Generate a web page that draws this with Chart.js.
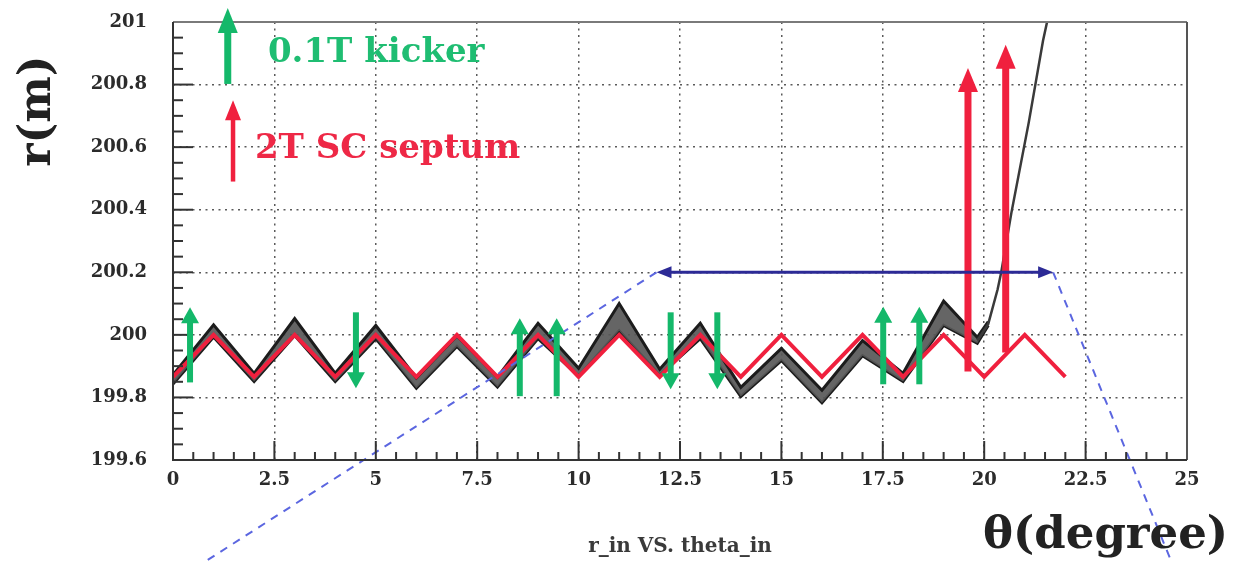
<!DOCTYPE html>
<html>
<head>
<meta charset="utf-8">
<title>r_in VS. theta_in</title>
<script src="https://cdn.jsdelivr.net/npm/chart.js@4.4.0/dist/chart.umd.min.js"></script>
<style>
  html, body { margin: 0; padding: 0; background: #fff; }
  canvas { display: block; }
</style>
</head>
<body>
<canvas id="canvas-orbit" width="1235" height="561"></canvas>
<script>
// axis ticks
const xTickValues = [0, 2.5, 5, 7.5, 10, 12.5, 15, 17.5, 20, 22.5, 25];
const xTickLabels = ['0', '2.5', '5', '7.5', '10', '12.5', '15', '17.5', '20', '22.5', '25'];
const yTickValues = [199.6, 199.8, 200, 200.2, 200.4, 200.6, 200.8, 201];
const yTickLabels = ['199.6', '199.8', '200', '200.2', '200.4', '200.6', '200.8', '201'];

// red reference orbit
const refTheta = [0, 1, 2, 3, 4, 5, 6, 7, 8, 9, 10, 11, 12, 13, 14, 15, 16, 17, 18, 19, 20, 21, 22];
const refR = [199.866, 200, 199.866, 200, 199.866, 200, 199.866, 200, 199.866, 200, 199.866, 200,
              199.866, 200, 199.866, 200, 199.866, 200, 199.866, 200, 199.866, 200, 199.866];

// tracked particles (band of turns): upper and lower edge
const bandTheta = [0, 1, 2, 3, 4, 5, 6, 7, 8, 9, 10, 11, 12, 13, 14, 15, 16, 17, 18, 19, 19.83, 20.1];
const bandHigh = [199.872, 200.032, 199.877, 200.052, 199.877, 200.03, 199.862, 199.997, 199.865, 200.037,
                  199.893, 200.1, 199.89, 200.037, 199.832, 199.957, 199.823, 199.982, 199.877, 200.108, 199.992, 200.042];
const bandLow = [199.843, 199.993, 199.851, 199.998, 199.851, 199.988, 199.829, 199.963, 199.833, 199.988,
                 199.868, 200.013, 199.871, 199.988, 199.803, 199.918, 199.783, 199.933, 199.851, 200.03, 199.973, 200.03];

// extracted beam leaving the orbit
const tailTheta = [19.83, 20.1, 20.33, 20.42, 20.67, 21.1, 21.45, 21.55];
const tailR = [199.982, 200.035, 200.145, 200.2, 200.39, 200.68, 200.94, 201.0];

// 0.1T kicker arrows
const kickerTheta = [0.42, 4.51, 8.55, 9.46, 12.27, 13.42, 17.51, 18.4];
const kickerFrom = [199.848, 200.072, 199.804, 199.804, 200.072, 200.072, 199.842, 199.842];
const kickerTo = [200.088, 199.829, 200.053, 200.053, 199.826, 199.826, 200.09, 200.09];

// 2T SC septum arrows
const septumTheta = [19.6, 20.53];
const septumFrom = [199.883, 199.944];
const septumTo = [200.853, 200.927];

// blue span arrow and the dashed zoom lines
const spanTheta = [11.92, 21.7];
const spanR = [200.2, 200.2];
const zoomLeftTheta = [11.92, 0.85];
const zoomLeftR = [200.2, 199.28];
const zoomRightTheta = [21.7, 24.6];
const zoomRightR = [200.2, 199.28];

// legend arrows (kicker, septum)
const legendTheta = [1.35, 1.48];
const legendFrom = [200.802, 200.49];
const legendTo = [201.045, 200.75];

const GREEN = '#14b86a';
const RED = '#f0203e';
const NAVY = '#2c2a96';
const SERIF = '"DejaVu Serif", "Liberation Serif", serif';

const pts = (xs, ys) => xs.map((x, i) => ({ x: x, y: ys[i] }));

function arrowSet(x, y0, y1, style) {
  return {
    data: [{ x: x, y: y0 }, { x: x, y: y1 }],
    showLine: false,
    pointRadius: 0,
    clip: false,
    arrow: style
  };
}

const datasets = [
  {
    label: 'band high',
    data: pts(bandTheta, bandHigh),
    showLine: true, pointRadius: 0,
    borderColor: '#1c1c1c', borderWidth: 3,
    backgroundColor: 'rgba(88,88,88,0.92)',
    fill: '+1',
    order: 10
  },
  {
    label: 'band low',
    data: pts(bandTheta, bandLow),
    showLine: true, pointRadius: 0,
    borderColor: '#1c1c1c', borderWidth: 3,
    fill: false,
    order: 10
  },
  {
    label: 'tail',
    data: pts(tailTheta, tailR),
    showLine: true, pointRadius: 0,
    borderColor: '#3a3a3a', borderWidth: 2.5,
    order: 9
  },
  {
    label: 'reference',
    data: pts(refTheta, refR),
    showLine: true, pointRadius: 0,
    borderColor: RED, borderWidth: 4,
    order: 5
  },
  {
    label: 'zoom left',
    data: pts(zoomLeftTheta, zoomLeftR),
    showLine: true, pointRadius: 0,
    borderColor: '#5b66e0', borderWidth: 2, borderDash: [8, 7],
    clip: false,
    order: 1
  },
  {
    label: 'zoom right',
    data: pts(zoomRightTheta, zoomRightR),
    showLine: true, pointRadius: 0,
    borderColor: '#5b66e0', borderWidth: 2, borderDash: [8, 7],
    clip: false,
    order: 1
  }
];

kickerTheta.forEach((t, i) => {
  datasets.push(arrowSet(t, kickerFrom[i], kickerTo[i], { color: GREEN, shaft: 6, headLen: 16, headW: 18 }));
});
septumTheta.forEach((t, i) => {
  datasets.push(arrowSet(t, septumFrom[i], septumTo[i], { color: RED, shaft: 7, headLen: 24, headW: 20 }));
});
datasets.push(arrowSet(legendTheta[0], legendFrom[0], legendTo[0], { color: GREEN, shaft: 7, headLen: 25, headW: 20 }));
datasets.push(arrowSet(legendTheta[1], legendFrom[1], legendTo[1], { color: RED, shaft: 4.5, headLen: 20, headW: 16 }));
datasets.push({
  data: pts(spanTheta, spanR),
  showLine: false, pointRadius: 0, clip: false,
  arrow: { color: NAVY, shaft: 3, headLen: 15, headW: 12, both: true }
});

function drawArrow(c, x0, y0, x1, y1, o) {
  const dx = x1 - x0, dy = y1 - y0;
  const len = Math.hypot(dx, dy);
  const ux = dx / len, uy = dy / len;
  const head = (hx, hy, vx, vy) => {
    c.beginPath();
    c.moveTo(hx, hy);
    c.lineTo(hx - vx * o.headLen - vy * o.headW / 2, hy - vy * o.headLen + vx * o.headW / 2);
    c.lineTo(hx - vx * o.headLen + vy * o.headW / 2, hy - vy * o.headLen - vx * o.headW / 2);
    c.closePath();
    c.fill();
  };
  c.save();
  c.strokeStyle = o.color;
  c.fillStyle = o.color;
  c.lineWidth = o.shaft;
  c.lineCap = 'butt';
  const back = o.headLen * 0.8;
  c.beginPath();
  c.moveTo(o.both ? x0 + ux * back : x0, o.both ? y0 + uy * back : y0);
  c.lineTo(x1 - ux * back, y1 - uy * back);
  c.stroke();
  head(x1, y1, ux, uy);
  if (o.both) head(x0, y0, -ux, -uy);
  c.restore();
}

const arrowPlugin = {
  id: 'arrows',
  afterDatasetsDraw(chart) {
    chart.data.datasets.forEach((ds, i) => {
      if (!ds.arrow) return;
      const p = chart.getDatasetMeta(i).data;
      drawArrow(chart.ctx, p[0].x, p[0].y, p[1].x, p[1].y, ds.arrow);
    });
  }
};

// ROOT-like frame with inward ticks
const framePlugin = {
  id: 'frame',
  afterDatasetsDraw(chart) {
    const c = chart.ctx;
    const a = chart.chartArea;
    const xs = chart.scales.x, ys = chart.scales.y;
    c.save();
    c.lineCap = 'butt';
    c.strokeStyle = '#333';
    c.lineWidth = 2;
    for (let v = 0; v <= 25.001; v += 0.5) {
      const px = xs.getPixelForValue(v);
      const major = Math.abs(v / 2.5 - Math.round(v / 2.5)) < 1e-6;
      c.beginPath();
      c.moveTo(px, a.bottom);
      c.lineTo(px, a.bottom - (major ? 19 : 8));
      c.stroke();
    }
    for (let k = 0; k <= 28; k++) {
      const v = 199.6 + k * 0.05;
      const py = ys.getPixelForValue(v);
      c.beginPath();
      c.moveTo(a.left, py);
      c.lineTo(a.left + (k % 4 === 0 ? 20 : 10), py);
      c.stroke();
    }
    c.strokeStyle = '#7a7a7a';
    c.beginPath(); c.moveTo(a.left, a.top); c.lineTo(a.right, a.top); c.stroke();
    c.strokeStyle = '#555';
    c.beginPath(); c.moveTo(a.right, a.top); c.lineTo(a.right, a.bottom); c.stroke();
    c.strokeStyle = '#333';
    c.beginPath(); c.moveTo(a.left, a.top); c.lineTo(a.left, a.bottom); c.lineTo(a.right, a.bottom); c.stroke();
    c.restore();
  }
};

const textPlugin = {
  id: 'notes',
  afterDraw(chart) {
    const c = chart.ctx;
    const a = chart.chartArea;
    const xs = chart.scales.x, ys = chart.scales.y;
    c.save();
    c.textBaseline = 'alphabetic';
    c.textAlign = 'left';
    c.font = 'bold 34px ' + SERIF;
    c.fillStyle = '#1fbd72';
    c.fillText('0.1T kicker', xs.getPixelForValue(2.34), ys.getPixelForValue(200.872));
    c.fillStyle = '#ee2846';
    c.fillText('2T SC septum', xs.getPixelForValue(2.02), ys.getPixelForValue(200.566));

    c.fillStyle = '#222';
    c.font = 'bold 45px ' + SERIF;
    c.fillText('θ(degree)', a.right - 204, a.bottom + 88);

    c.font = 'bold 20px ' + SERIF;
    c.fillStyle = '#3a3a3a';
    c.textAlign = 'center';
    c.fillText('r_in VS. theta_in', (a.left + a.right) / 2, a.bottom + 92);

    c.textAlign = 'center';
    c.translate(a.left - 123, a.top + 89);
    c.rotate(-Math.PI / 2);
    c.font = 'bold 44px ' + SERIF;
    c.fillStyle = '#222';
    c.fillText('r(m)', 0, 0);
    c.restore();
  }
};

const ctx = document.getElementById('canvas-orbit').getContext('2d');
const myChart = new Chart(ctx, {
  type: 'scatter',
  data: { datasets: datasets },
  options: {
    responsive: false,
    animation: false,
    layout: { padding: { left: 0, right: 48, top: 22, bottom: 0 } },
    plugins: {
      legend: { display: false },
      tooltip: { enabled: false }
    },
    scales: {
      x: {
        type: 'linear',
        min: 0,
        max: 25,
        afterBuildTicks: (scale) => { scale.ticks = xTickValues.map(v => ({ value: v })); },
        afterFit: (scale) => { scale.height = 101; },
        ticks: {
          autoSkip: false,
          maxRotation: 0,
          padding: 10,
          color: '#2b2b2b',
          font: { family: SERIF, size: 18, weight: 'bold' },
          callback: (v, i) => xTickLabels[i]
        },
        grid: { color: '#5a5a5a', lineWidth: 1.5, drawTicks: false },
        border: { display: false, dash: [2, 4.5] }
      },
      y: {
        type: 'linear',
        min: 199.6,
        max: 201,
        afterBuildTicks: (scale) => { scale.ticks = yTickValues.map(v => ({ value: v })); },
        afterFit: (scale) => { scale.width = 173; },
        ticks: {
          autoSkip: false,
          padding: 0,
          color: '#2b2b2b',
          font: { family: SERIF, size: 18, weight: 'bold' },
          callback: (v, i) => yTickLabels[i]
        },
        // invisible tick marks only push the labels away from the frame
        grid: { color: '#5a5a5a', lineWidth: 1.5, drawTicks: true, tickLength: 26, tickColor: 'rgba(0,0,0,0)' },
        border: { display: false, dash: [2, 4.5] }
      }
    }
  },
  plugins: [framePlugin, arrowPlugin, textPlugin]
});
</script>
</body>
</html>
